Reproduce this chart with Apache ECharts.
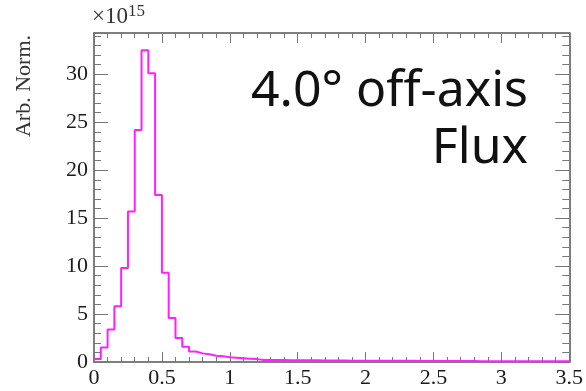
<!DOCTYPE html>
<html>
<head>
<meta charset="utf-8">
<script src="https://cdn.jsdelivr.net/npm/echarts@6/dist/echarts.min.js"></script>
<style>
  html, body { margin: 0; padding: 0; background: #fff; }
  #chart { width: 586px; height: 391px; }
</style>
</head>
<body>
<div id="chart"></div>
<script>
// bin left edges are 0, 0.05, 0.10 ... 3.45 (width 0.05), values in units of 1e15
const binWidth = 0.05
const fluxValues = [
  0.3, 1.5, 3.4, 5.8, 9.8, 15.7, 24.2, 32.5, 30.1, 17.4,
  9.3, 4.6, 2.5, 1.6, 1.1, 0.9, 0.8, 0.65, 0.6, 0.5,
  0.45, 0.4, 0.35, 0.3, 0.22, 0.21, 0.2, 0.2, 0.19, 0.19,
  0.18, 0.17, 0.17, 0.16, 0.16, 0.15, 0.15, 0.14, 0.14, 0.14,
  0.13, 0.13, 0.13, 0.12, 0.12, 0.12, 0.12, 0.11, 0.11, 0.11,
  0.11, 0.1, 0.1, 0.1, 0.1, 0.1, 0.09, 0.09, 0.09, 0.09,
  0.09, 0.09, 0.08, 0.08, 0.08, 0.08, 0.08, 0.08, 0.08, 0.08
]
const xTicks = ['0', '0.5', '1', '1.5', '2', '2.5', '3', '3.5']
const yTicks = ['0', '5', '10', '15', '20', '25', '30']
const yMax = 34.3
const labelLines = ['4.0° off-axis', 'Flux']

// histogram outline: one point per bin left edge, plus closing point at right edge
const stepData = fluxValues.map((v, i) => [+(i * binWidth).toFixed(2), v])
stepData.push([+(fluxValues.length * binWidth).toFixed(2), fluxValues[fluxValues.length - 1]])

const frameColor = '#555'
const tickColor = '#777'
const serif = 'Liberation Serif'

function makeAxis(extra) {
  return Object.assign({
    type: 'value',
    axisLine: { show: true, onZero: false, lineStyle: { color: frameColor, width: 1.5 } },
    splitLine: { show: false },
    minorSplitLine: { show: false }
  }, extra)
}

let chart = echarts.init(document.getElementById('chart'))
chart.setOption({
  animation: false,
  backgroundColor: '#fff',
  grid: { left: 94, right: 12, top: 33, bottom: 29, containLabel: false },
  xAxis: [
    makeAxis({
      position: 'bottom', min: 0, max: 3.5, interval: 0.5,
      axisTick: { inside: true, length: 10, lineStyle: { color: tickColor } },
      minorTick: { show: true, splitNumber: 5, length: 5, lineStyle: { color: tickColor } },
      axisLabel: {
        margin: 5, fontFamily: serif, fontSize: 22, color: '#1a1a1a',
        formatter: v => xTicks[Math.round(v / 0.5)] || ''
      }
    }),
    makeAxis({
      position: 'top', min: 0, max: 3.5, interval: 0.5,
      axisTick: { inside: true, length: 10, lineStyle: { color: tickColor } },
      minorTick: { show: true, splitNumber: 5, length: 5, lineStyle: { color: tickColor } },
      axisLabel: { show: false }
    })
  ],
  yAxis: [
    makeAxis({
      position: 'left', min: 0, max: yMax, interval: 5,
      axisTick: { inside: true, length: 14, lineStyle: { color: tickColor } },
      minorTick: { show: true, splitNumber: 5, length: 7, lineStyle: { color: tickColor } },
      axisLabel: {
        margin: 6, fontFamily: serif, fontSize: 22, color: '#1a1a1a', showMaxLabel: false,
        formatter: v => (Math.abs(v / 5 - Math.round(v / 5)) < 1e-6 ? (yTicks[Math.round(v / 5)] || '') : '')
      }
    }),
    makeAxis({
      position: 'right', min: 0, max: yMax, interval: 5,
      axisTick: { inside: true, length: 14, lineStyle: { color: tickColor } },
      minorTick: { show: true, splitNumber: 5, length: 7, lineStyle: { color: tickColor } },
      axisLabel: { show: false }
    })
  ],
  series: [{
    type: 'line',
    step: 'end',
    data: stepData,
    showSymbol: false,
    symbol: 'none',
    lineStyle: { color: '#ff1fff', width: 2 },
    z: 1
  }],
  graphic: [
    {
      type: 'text', x: 24, y: 86, rotation: Math.PI / 2,
      style: {
        text: 'Arb. Norm.', fontFamily: serif, fontSize: 22, fill: '#333',
        align: 'center', verticalAlign: 'middle'
      }
    },
    {
      type: 'text', x: 92, y: 31,
      style: {
        text: '{b|×10}{s|15}', align: 'left', verticalAlign: 'bottom',
        rich: {
          b: { fontFamily: serif, fontSize: 23, fill: '#333' },
          s: { fontFamily: serif, fontSize: 17, fill: '#333', verticalAlign: 'top', padding: [0, 0, 11, 0] }
        }
      }
    },
    {
      type: 'text', x: 528, y: 92,
      style: {
        text: labelLines[0], fontFamily: 'Noto Sans', fontSize: 50, fill: '#111',
        align: 'right', verticalAlign: 'middle'
      }
    },
    {
      type: 'text', x: 528, y: 149,
      style: {
        text: labelLines[1], fontFamily: 'Noto Sans', fontSize: 50, fill: '#111',
        align: 'right', verticalAlign: 'middle'
      }
    }
  ]
})
</script>
</body>
</html>
